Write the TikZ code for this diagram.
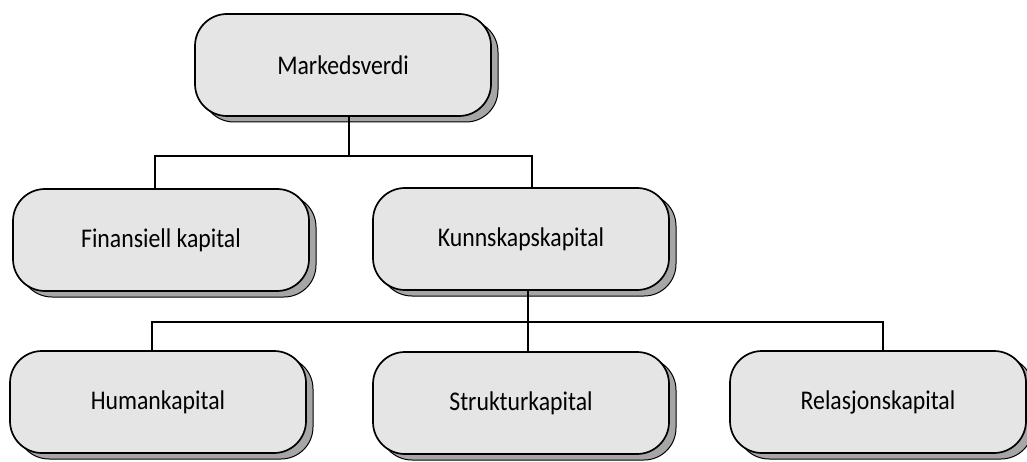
\documentclass[tikz,border=0pt]{standalone}
\usepackage{fontspec}
\setmainfont{Carlito}[FakeStretch=0.88]
\usetikzlibrary{shadows}
\tikzset{
  capbox/.style={
    draw=black, line width=1.7pt, fill=gray!20,
    rounded corners=32pt,
    minimum width=296pt, minimum height=102pt,
    font=\fontsize{27}{32}\selectfont,
    drop shadow={shadow xshift=7pt, shadow yshift=-6pt,
                 opacity=1, fill=gray!70, draw=black, line width=1pt}
  },
  link/.style={draw=black, line width=1.5pt}
}
\begin{document}
\begin{tikzpicture}[x=1pt,y=-1pt]
  \useasboundingbox (0,0) rectangle (1027,462);

  % tree of capital components
  \node[capbox] (mv) at (343,65)  {Markedsverdi};
  \node[capbox] (fk) at (161,240) {Finansiell kapital};
  \node[capbox] (kk) at (521,239) {Kunnskapskapital};
  \node[capbox] (hk) at (158,402) {Humankapital};
  \node[capbox] (sk) at (521,403) {Strukturkapital};
  \node[capbox] (rk) at (878,402) {Relasjonskapital};

  % bus lines between levels
  \coordinate (bus1) at (349,156);
  \coordinate (bus2) at (528,322);

  \draw[link] ([xshift=6pt]mv.south) -- (bus1);
  \draw[link] ([xshift=-6pt]fk.north) |- (bus1) -| ([xshift=11pt]kk.north);

  \draw[link] ([xshift=7pt]kk.south) -- (bus2);
  \draw[link] ([xshift=-6pt]hk.north) |- (bus2) -| ([xshift=5pt]rk.north);
  \draw[link] (bus2) -- ([xshift=7pt]sk.north);
\end{tikzpicture}
\end{document}
